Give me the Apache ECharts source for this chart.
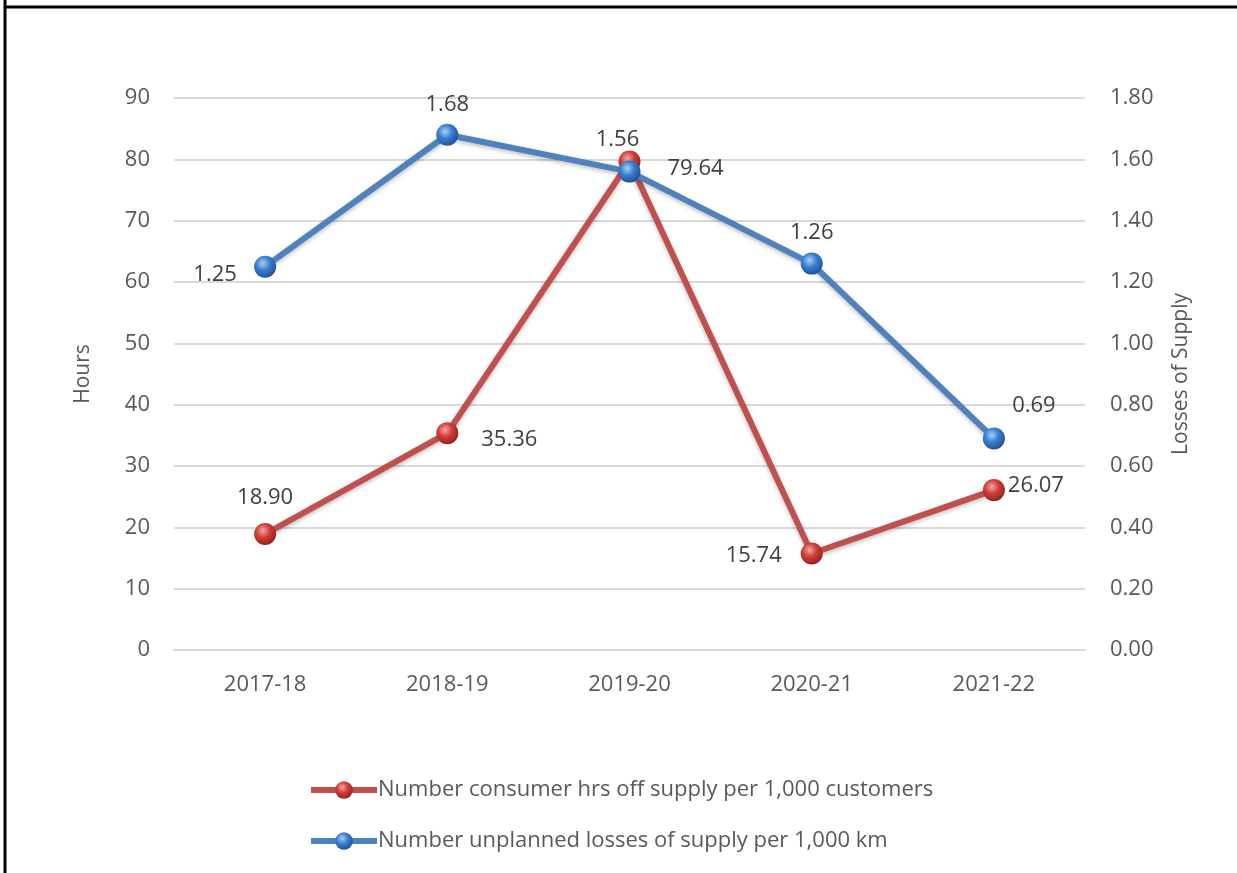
<!DOCTYPE html>
<html>
<head>
<meta charset="utf-8">
<script src="https://cdn.jsdelivr.net/npm/echarts@6/dist/echarts.min.js"></script>
<style>
  html, body { margin: 0; padding: 0; background: #fff; }
  #chart { width: 1237px; height: 873px; }
</style>
</head>
<body>
<div id="chart"></div>
<script>
var years = ['2017-18', '2018-19', '2019-20', '2020-21', '2021-22'];
var hoursOff = [18.90, 35.36, 79.64, 15.74, 26.07];
var lossesPer1000km = [1.25, 1.68, 1.56, 1.26, 0.69];
var seriesNames = ['Number consumer hrs off supply per 1,000 customers',
                   'Number unplanned losses of supply per 1,000 km'];

var FONT = '"Open Sans", sans-serif';

function sphere(light, mid, dark) {
    return {
        type: 'radial', x: 0.4, y: 0.35, r: 0.7,
        colorStops: [
            { offset: 0, color: light },
            { offset: 0.45, color: mid },
            { offset: 1, color: dark }
        ]
    };
}

// label placement per point (red, blue)
var redPos = [[0, -36], [62, 7], [66, 7], [-58, 2], [42, -4]];
var bluePos = [[-50, 8], [0, -30], [-12, -32], [0, -31], [40, -33]];

function withLabels(values, offs) {
    return values.map(function (v, i) {
        return { value: v, label: { offset: offs[i] } };
    });
}

var myChart = echarts.init(document.getElementById('chart'));
var option = {
    animation: false,
    textStyle: { fontFamily: FONT },
    graphic: [
        { type: 'line', shape: { x1: 5, y1: 0, x2: 5, y2: 873 }, style: { stroke: '#000', lineWidth: 3 } },
        { type: 'line', shape: { x1: 5, y1: 7, x2: 1237, y2: 7 }, style: { stroke: '#000', lineWidth: 3 } }
    ],
    grid: { left: 174, right: 152, top: 98, bottom: 223 },
    legend: {
        orient: 'vertical',
        left: 308,
        top: 779,
        padding: 0,
        itemGap: 29,
        itemWidth: 66,
        itemHeight: 22,
        lineStyle: { width: 6 },
        textStyle: { fontSize: 22, color: '#595959', fontFamily: FONT, padding: [0, 0, 0, -4] },
        data: seriesNames
    },
    xAxis: {
        type: 'category',
        data: years,
        axisLine: { lineStyle: { color: '#d9d9d9', width: 2 } },
        axisTick: { show: false },
        axisLabel: { fontSize: 22, color: '#595959', margin: 24 }
    },
    yAxis: [
        {
            type: 'value', min: 0, max: 90, interval: 10,
            name: 'Hours', nameLocation: 'middle', nameGap: 80, nameRotate: 90,
            nameTextStyle: { fontSize: 21, color: '#595959' },
            axisLabel: { fontSize: 22, color: '#595959', margin: 24 },
            splitLine: { lineStyle: { color: '#d9d9d9', width: 2 } }
        },
        {
            type: 'value', min: 0, max: 1.8, interval: 0.2,
            name: 'Losses of Supply', nameLocation: 'middle', nameGap: 86, nameRotate: 90,
            nameTextStyle: { fontSize: 21, color: '#595959' },
            axisLabel: { fontSize: 22, color: '#595959', margin: 25,
                formatter: function (v) { return v.toFixed(2); } },
            splitLine: { show: false }
        }
    ],
    series: [
        {
            name: seriesNames[0],
            type: 'line',
            yAxisIndex: 0,
            data: withLabels(hoursOff, redPos),
            symbol: 'circle',
            symbolSize: 22,
            lineStyle: { color: '#c0504d', width: 6, shadowColor: 'rgba(0,0,0,0.25)', shadowBlur: 4, shadowOffsetY: 2 },
            itemStyle: { color: sphere('#f4a6a4', '#d23d39', '#8e1f1c'), borderWidth: 0 },
            label: { show: true, fontSize: 22, color: '#404040', position: 'inside',
                formatter: function (p) { return p.value.toFixed(2); } }
        },
        {
            name: seriesNames[1],
            type: 'line',
            yAxisIndex: 1,
            data: withLabels(lossesPer1000km, bluePos),
            symbol: 'circle',
            symbolSize: 22,
            lineStyle: { color: '#4f81bd', width: 6, shadowColor: 'rgba(0,0,0,0.25)', shadowBlur: 4, shadowOffsetY: 2 },
            itemStyle: { color: sphere('#a9d0f5', '#3a7fd0', '#1c4e8f'), borderWidth: 0 },
            label: { show: true, fontSize: 22, color: '#404040', position: 'inside',
                formatter: function (p) { return p.value.toFixed(2); } }
        }
    ]
};
myChart.setOption(option);
</script>
</body>
</html>
